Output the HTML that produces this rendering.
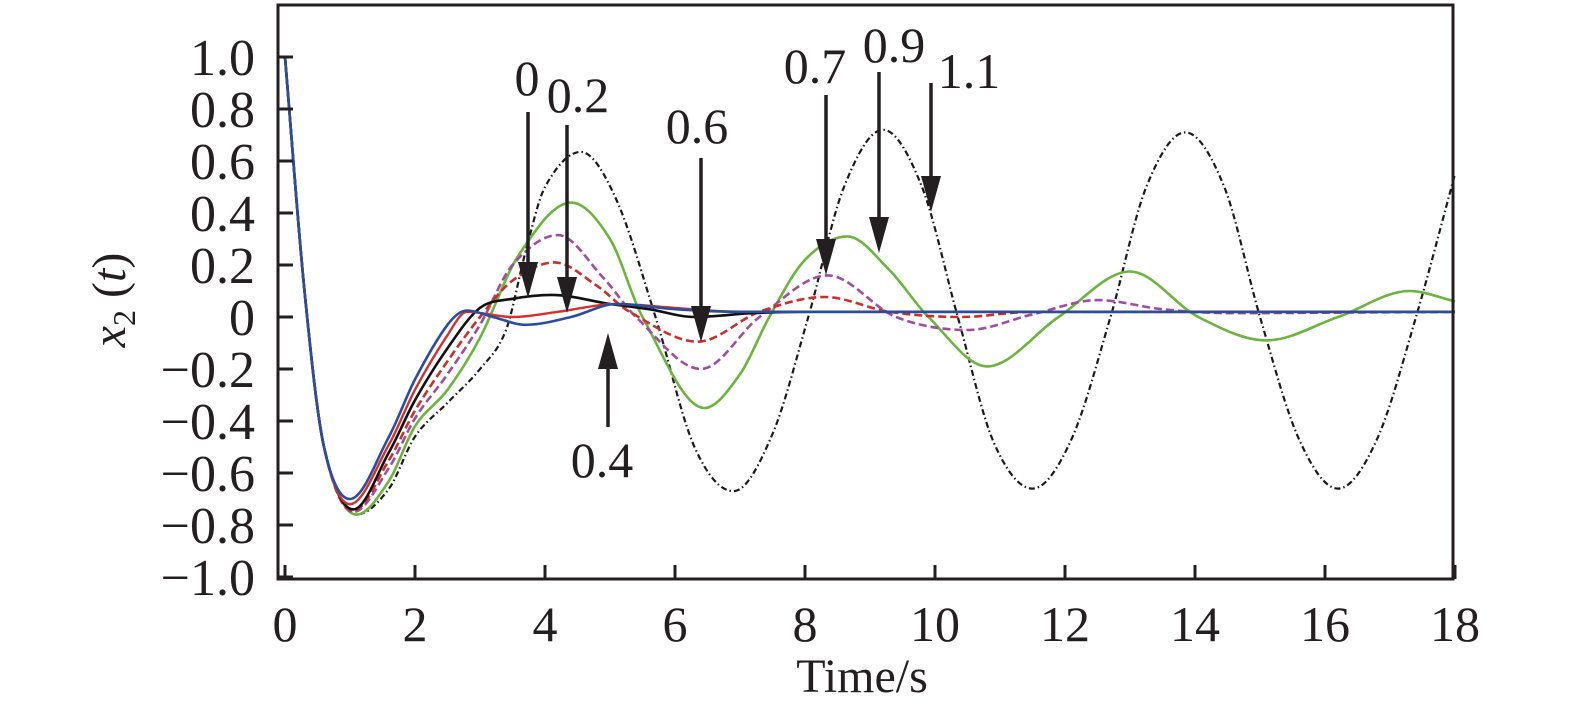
<!DOCTYPE html>
<html><head><meta charset="utf-8"><style>
html,body{margin:0;padding:0;background:#fff;}
svg{display:block;font-family:"Liberation Serif",serif;}
</style></head><body>
<svg id="chart" width="1575" height="719" viewBox="0 0 1575 719">
<g id="series"></g>
<rect x="278" y="5" width="1175" height="574" fill="none" stroke="#231f20" stroke-width="3"/>
<g id="axes"></g>
<g id="annot"></g>
<text x="862" y="692" font-size="48" text-anchor="middle" fill="#231f20">Time/s</text>
<text transform="translate(125,300) rotate(-90)" font-size="48" text-anchor="middle" fill="#231f20"><tspan font-style="italic">x</tspan><tspan font-size="32" dy="10">2</tspan><tspan dy="-10"> (</tspan><tspan font-style="italic">t</tspan><tspan>)</tspan></text>
</svg>
<script>
const xTicks=[0,2,4,6,8,10,12,14,16,18];
const yTicks=[1.0,0.8,0.6,0.4,0.2,0,-0.2,-0.4,-0.6,-0.8,-1.0];
const yTickLabels=["1.0","0.8","0.6","0.4","0.2","0","\u22120.2","\u22120.4","\u22120.6","\u22120.8","\u22121.0"];
const seriesNames=["k0","k0.2","k0.4","k0.6","k0.7","k0.9","k1.1"];
const t11=[0,0.3,0.6,1.1,1.6,2,2.5,3,3.4,3.7,4,4.55,5.1,5.7,6.3,6.9,7.5,8.05,8.6,9.2,9.8,10.35,10.9,11.5,12.1,12.7,13.25,13.85,14.45,15.0,15.6,16.2,16.8,17.4,18];
const v11=[1,0.1,-0.5,-0.76,-0.66,-0.46,-0.33,-0.2,-0.05,0.25,0.5,0.635,0.45,0,-0.5,-0.67,-0.45,0,0.5,0.72,0.5,0,-0.48,-0.66,-0.47,0,0.5,0.71,0.5,0,-0.47,-0.66,-0.47,0,0.55];
const t09=[0,0.3,0.6,1.1,1.6,2,2.5,3,3.6,4.4,5.0,5.5,6.45,7.0,7.45,8.0,8.65,9.3,9.9,10.8,11.9,13.0,14.05,15.1,16.2,17.3,18];
const v09=[1,0.1,-0.5,-0.76,-0.63,-0.42,-0.28,-0.08,0.24,0.44,0.3,0.0,-0.35,-0.22,0,0.22,0.31,0.18,0,-0.19,0,0.175,0,-0.09,0,0.10,0.06];
const t07=[0,0.3,0.6,1.05,1.6,2,2.5,3,3.5,4.2,4.9,5.4,6.4,7.3,8.35,9.4,10.5,11.5,12.5,13.5,14.5,18];
const v07=[1,0.1,-0.5,-0.75,-0.58,-0.39,-0.22,-0.03,0.2,0.315,0.15,0,-0.2,0,0.16,0.0,-0.05,0.01,0.065,0.03,0.015,0.02];
const t06=[0,0.3,0.6,1.05,1.6,2,2.5,3,3.5,4.15,4.8,5.3,6.35,7.3,8.3,9.3,10.4,11.5,18];
const v06=[1,0.1,-0.5,-0.745,-0.55,-0.36,-0.17,0.0,0.14,0.21,0.12,0.02,-0.095,0.02,0.077,0.02,0.0,0.02,0.02];
const t00=[0,0.3,0.6,1.05,1.6,2,2.5,3,3.5,4.1,5,5.6,6.3,7.2,8,18];
const v00=[1,0.1,-0.5,-0.74,-0.52,-0.32,-0.12,0.035,0.07,0.085,0.05,0.03,0.0,0.015,0.02,0.02];
const t02=[0,0.3,0.6,1.0,1.6,2,2.5,2.8,3.5,4.2,5.1,6,7,18];
const v02=[1,0.1,-0.5,-0.72,-0.49,-0.28,-0.07,0.02,0.0,0.02,0.05,0.035,0.02,0.02];
const t04=[0,0.3,0.6,1.0,1.6,2,2.5,2.8,3.2,3.7,4.4,5.1,6,7,18];
const v04=[1,0.1,-0.5,-0.70,-0.46,-0.24,-0.03,0.025,0.0,-0.03,0.0,0.05,0.03,0.02,0.02];

const NS="http://www.w3.org/2000/svg";
const X0=285,XS=65,Y0=317,YS=260;
function sx(t){return X0+XS*t;}
function sy(v){return Y0-YS*v;}
function mk(tag,attrs,parent){const e=document.createElementNS(NS,tag);for(const k in attrs)e.setAttribute(k,attrs[k]);parent.appendChild(e);return e;}

function smoothPath(ts,vs){
  const n=ts.length,m=[];
  for(let i=0;i<n;i++){
    if(i===0)m[i]=(vs[1]-vs[0])/(ts[1]-ts[0]);
    else if(i===n-1)m[i]=(vs[n-1]-vs[n-2])/(ts[n-1]-ts[n-2]);
    else{
      const a=vs[i]-vs[i-1],b=vs[i+1]-vs[i];
      if(a*b<=0)m[i]=0;
      else m[i]=(vs[i+1]-vs[i-1])/(ts[i+1]-ts[i-1]);
    }
  }
  let p="M"+sx(ts[0]).toFixed(1)+","+sy(vs[0]).toFixed(1);
  for(let i=0;i<n-1;i++){
    const h=ts[i+1]-ts[i];
    p+="C"+sx(ts[i]+h/3).toFixed(1)+","+sy(vs[i]+m[i]*h/3).toFixed(1)+" "+sx(ts[i+1]-h/3).toFixed(1)+","+sy(vs[i+1]-m[i+1]*h/3).toFixed(1)+" "+sx(ts[i+1]).toFixed(1)+","+sy(vs[i+1]).toFixed(1);
  }
  return p;
}
const sg=document.getElementById('series');
const defs=[
 [t11,v11,"#1a1a1a","6 3 1.5 3",2.2,"series-k1-1"],
 [t09,v09,"#6db33f","",2.6,"series-k0-9"],
 [t07,v07,"#9b4f9e","8 4",2.6,"series-k0-7"],
 [t06,v06,"#c9302c","8 4",2.6,"series-k0-6"],
 [t00,v00,"#111111","",2.6,"series-k0"],
 [t02,v02,"#d2322d","",2.4,"series-k0-2"],
 [t04,v04,"#2b4d9b","",2.6,"series-k0-4"]
];
for(const s of defs){
  const p=mk('path',{d:smoothPath(s[0],s[1]),fill:"none",stroke:s[2],"stroke-width":s[4],"stroke-linejoin":"round"},sg);
  if(s[3])p.setAttribute('stroke-dasharray',s[3]);
  
  
}
const ax=document.getElementById('axes');
xTicks.forEach(t=>{
  const l=mk('line',{x1:sx(t),x2:sx(t),y1:579,y2:565,stroke:"#231f20","stroke-width":3},ax);
  
  
  const tx=mk('text',{x:Math.max(sx(t),279),y:641,"font-size":50,"text-anchor":"middle",fill:"#231f20"},ax);
  tx.textContent=String(t);
  
  
});
yTicks.forEach((v,i)=>{
  const l=mk('line',{x1:278,x2:293,y1:sy(v),y2:sy(v),stroke:"#231f20","stroke-width":3},ax);
  
  
  const tx=mk('text',{x:255,y:sy(v)+18,"font-size":52,"text-anchor":"end",fill:"#231f20"},ax);
  tx.textContent=yTickLabels[i];
  
  
});
const an=document.getElementById('annot');
const arrows=[
 ["0",528,112,298,1,527,95],
 ["0.2",567,125,313,1,578,112],
 ["0.6",701,158,342,1,697,143],
 ["0.4",608,427,333,-1,602,477],
 ["0.7",826,95,275,1,815,83],
 ["0.9",879,72,253,1,894,62],
 ["1.1",931,83,212,1,969,88]
];
arrows.forEach(a=>{
  const [lab,x,y1,tip,dir,lx,ly]=a;
  const hb=tip-dir*36;
  const l=mk('line',{x1:x,x2:x,y1:y1,y2:hb,stroke:"#231f20","stroke-width":3.5},an);
  
  
  const h=mk('polygon',{points:`${x-10},${hb} ${x+10},${hb} ${x},${tip}`,fill:"#231f20"},an);
  
  
  const tx=mk('text',{x:lx,y:ly,"font-size":50,"text-anchor":"middle",fill:"#231f20"},an);
  tx.textContent=lab;
  
  
});
</script>
</body></html>
